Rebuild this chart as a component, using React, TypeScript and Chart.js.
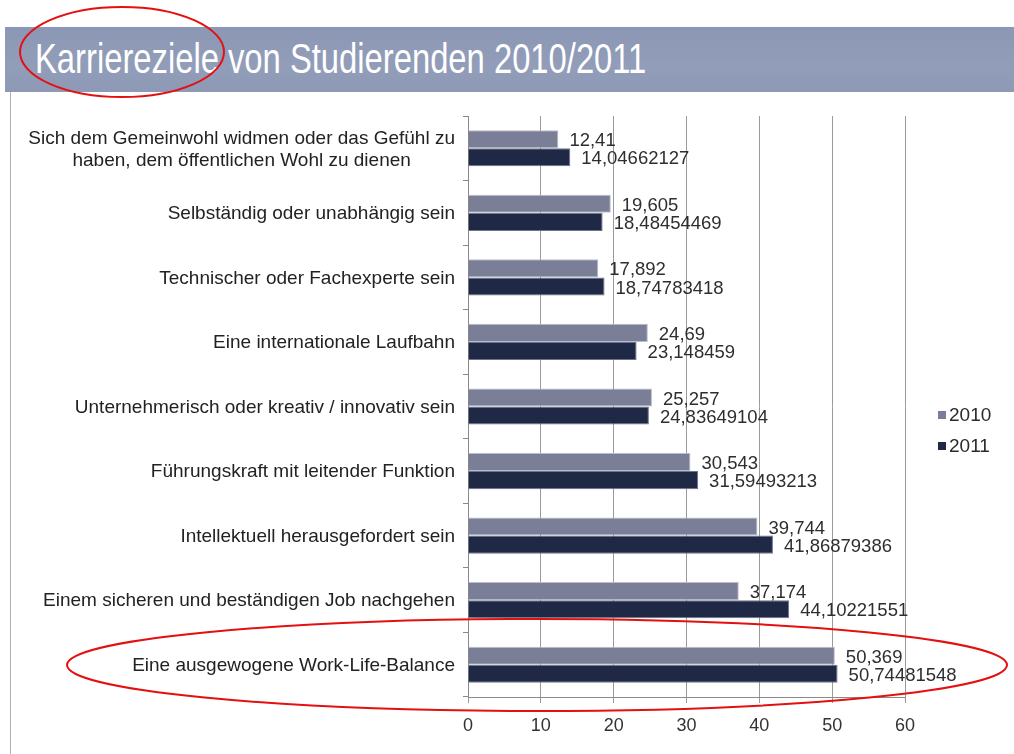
import React, { useEffect, useRef } from "react";
import { Chart, registerables } from "chart.js";

Chart.register(...registerables);

const categories: (string | string[])[] = [
  ["Sich dem Gemeinwohl widmen oder das Gefühl zu", "haben, dem öffentlichen Wohl zu dienen"],
  "Selbständig oder unabhängig sein",
  "Technischer oder Fachexperte sein",
  "Eine internationale Laufbahn",
  "Unternehmerisch oder kreativ / innovativ sein",
  "Führungskraft mit leitender Funktion",
  "Intellektuell herausgefordert sein",
  "Einem sicheren und beständigen Job nachgehen",
  "Eine ausgewogene Work-Life-Balance",
];

const values2010 = [12.41, 19.605, 17.892, 24.69, 25.257, 30.543, 39.744, 37.174, 50.369];
const values2011 = [
  14.04662127, 18.48454469, 18.74783418, 23.148459, 24.83649104, 31.59493213, 41.86879386,
  44.10221551, 50.74481548,
];
const seriesNames = ["2010", "2011"];
const xTicks = [0, 10, 20, 30, 40, 50, 60];
const titleText = "Karriereziele von Studierenden 2010/2011";

const FONT = "'Liberation Sans', Arial, Helvetica, sans-serif";
const COLOR_2010 = "#7a7e96";
const COLOR_2011 = "#1f2946";

const fmt = (v: number) => String(v).replace(".", ",");

const labelPlugin = {
  id: "barLabels",
  afterDatasetsDraw(chart: any) {
    const ctx = chart.ctx;
    ctx.save();
    ctx.font = `18.5px ${FONT}`;
    ctx.fillStyle = "#2e2e2e";
    ctx.textAlign = "left";
    ctx.textBaseline = "middle";
    chart.data.datasets.forEach((ds: any, di: number) => {
      const meta = chart.getDatasetMeta(di);
      meta.data.forEach((bar: any, i: number) => {
        const v = ds.data[i];
        ctx.fillText(fmt(v), bar.x + 11, bar.y + 2);
      });
    });
    ctx.restore();
  },
};

// Category labels: block right-aligned next to the axis, lines centred within the block
const categoryLabelPlugin = {
  id: "categoryLabels",
  afterDraw(chart: any) {
    const ctx = chart.ctx;
    const yScale = chart.scales.y;
    const right = chart.chartArea.left - 13;
    const lineH = 22;
    ctx.save();
    ctx.font = `19px ${FONT}`;
    ctx.fillStyle = "#222";
    ctx.textAlign = "center";
    ctx.textBaseline = "middle";
    (chart.data.labels as (string | string[])[]).forEach((lab, i) => {
      const lines = Array.isArray(lab) ? lab : [lab];
      const maxW = Math.max(...lines.map((l) => ctx.measureText(l).width));
      const cx = right - maxW / 2;
      const py = yScale.getPixelForValue(i);
      lines.forEach((l, j) => {
        ctx.fillText(l, cx, py + 1 + (j - (lines.length - 1) / 2) * lineH);
      });
    });
    ctx.restore();
  },
};

export default function App() {
  const ref = useRef<HTMLCanvasElement | null>(null);

  useEffect(() => {
    document.body.style.margin = "0";
    const canvas = ref.current;
    if (!canvas) return;
    const chart = new Chart(canvas, {
      type: "bar",
      data: {
        labels: categories,
        datasets: [
          {
            label: seriesNames[0],
            data: values2010,
            backgroundColor: COLOR_2010,
            borderColor: "#b9bdcc",
            borderWidth: 1,
            categoryPercentage: 0.56,
            barPercentage: 1.0,
          },
          {
            label: seriesNames[1],
            data: values2011,
            backgroundColor: COLOR_2011,
            borderColor: "#6c7390",
            borderWidth: 1,
            categoryPercentage: 0.56,
            barPercentage: 1.0,
          },
        ],
      },
      options: {
        indexAxis: "y",
        responsive: false,
        animation: false,
        layout: { padding: { left: 0, right: 109, top: 116, bottom: 0 } },
        plugins: {
          legend: { display: false },
          tooltip: { enabled: false },
          title: { display: false },
        },
        scales: {
          x: {
            min: 0,
            max: 60,
            afterBuildTicks: (scale: any) => {
              scale.ticks = xTicks.map((v) => ({ value: v }));
            },
            afterFit: (scale: any) => {
              scale.height = 57;
            },
            grid: {
              color: "#9a9a9a",
              lineWidth: 1,
              drawTicks: true,
              tickLength: 6,
            },
            border: { color: "#8a8a8a" },
            ticks: {
              color: "#333",
              font: { family: FONT, size: 18 },
              padding: 12,
            },
          },
          y: {
            afterFit: (scale: any) => {
              scale.width = 468;
            },
            grid: {
              drawOnChartArea: false,
              drawTicks: true,
              tickLength: 5,
              color: "#8a8a8a",
            },
            border: { color: "#8a8a8a" },
            ticks: { display: false },
          },
        },
      },
      plugins: [labelPlugin, categoryLabelPlugin],
    });
    return () => chart.destroy();
  }, []);

  return (
    <div style={{ position: "relative", width: 1014, height: 754, background: "#fff", overflow: "hidden" }}>
      <div
        style={{
          position: "absolute",
          left: 5,
          top: 27,
          width: 1009,
          height: 65,
          background: "linear-gradient(180deg, #8b97b4 0%, #929db9 60%, #8e99b5 100%)",
        }}
      />
      <div
        style={{
          position: "absolute",
          left: 35,
          top: 32,
          color: "#ffffff",
          fontFamily: "'Liberation Sans', Arial, sans-serif",
          fontSize: 42,
          lineHeight: "54px",
          whiteSpace: "nowrap",
          transform: "scaleX(0.78)",
          transformOrigin: "left center",
        }}
      >
        {titleText}
      </div>
      <div style={{ position: "absolute", left: 10, top: 92, width: 1, height: 662, background: "#b0b0b8" }} />
      <canvas
        ref={ref}
        width={1014}
        height={754}
        style={{ position: "absolute", left: 0, top: 0, width: 1014, height: 754 }}
      />
      <div style={{ position: "absolute", left: 938, top: 399, fontFamily: FONT, fontSize: 19, color: "#2a2a2a" }}>
        {seriesNames.map((n, i) => (
          <div key={n} style={{ display: "flex", alignItems: "center", height: 31 }}>
            <span
              style={{
                display: "inline-block",
                width: 8,
                height: 8,
                background: i === 0 ? COLOR_2010 : COLOR_2011,
                marginRight: 3,
              }}
            />
            <span>{n}</span>
          </div>
        ))}
      </div>
      <svg
        width={1014}
        height={754}
        style={{ position: "absolute", left: 0, top: 0, pointerEvents: "none" }}
      >
        <ellipse cx={122} cy={52} rx={102} ry={45} fill="none" stroke="#e41010" strokeWidth={2} />
        <ellipse cx={537} cy={665} rx={470} ry={46} fill="none" stroke="#e41010" strokeWidth={2} />
      </svg>
    </div>
  );
}
